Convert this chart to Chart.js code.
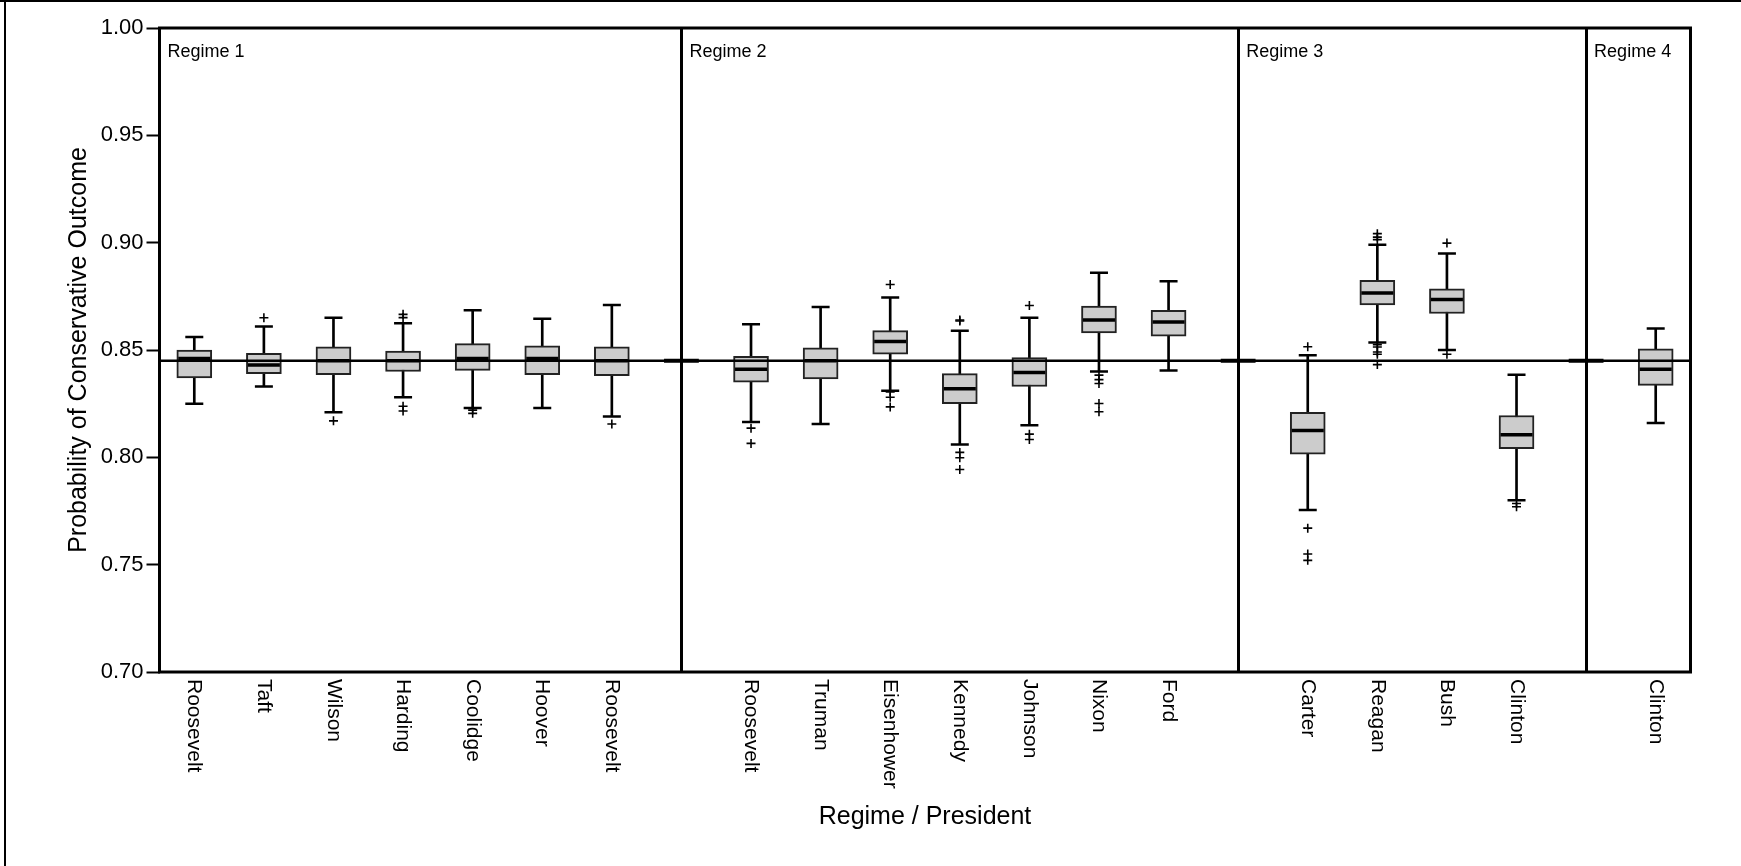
<!DOCTYPE html>
<html lang="en">
<head>
<meta charset="utf-8">
<title>Probability of Conservative Outcome by Regime / President</title>

<script src="https://cdn.jsdelivr.net/npm/chart.js"></script>

<style>
  body{margin:0;background:#fff}
  canvas{display:block}
</style>
</head>
<body>

<canvas id="chart" width="1741" height="866"></canvas>

<script>
// one slot per president; null slots are where the regime dividers sit
const presidents = [
  'Roosevelt','Taft','Wilson','Harding','Coolidge','Hoover','Roosevelt', null,
  'Roosevelt','Truman','Eisenhower','Kennedy','Johnson','Nixon','Ford', null,
  'Carter','Reagan','Bush','Clinton', null,
  'Clinton'
];

const whiskerLow  = [0.825,0.833,0.821,0.828,0.823,0.823,0.819,null, 0.8165,0.8155,0.831,0.806,0.815,0.840,0.8405,null, 0.7755,0.8535,0.850,0.780,null, 0.816];
const q1          = [0.837,0.839,0.8385,0.840,0.8405,0.8385,0.838,null, 0.835,0.8365,0.848,0.825,0.833,0.858,0.8565,null, 0.8015,0.871,0.867,0.804,null, 0.8335];
const median      = [0.846,0.843,0.845,0.845,0.846,0.846,0.845,null, 0.841,0.845,0.854,0.832,0.8395,0.864,0.863,null, 0.8125,0.8765,0.8735,0.8105,null, 0.841];
const q3          = [0.850,0.8485,0.8515,0.8495,0.853,0.852,0.8515,null, 0.847,0.851,0.859,0.839,0.8465,0.8705,0.8685,null, 0.821,0.8825,0.8785,0.8195,null, 0.8505];
const whiskerHigh = [0.856,0.861,0.865,0.8625,0.8685,0.8645,0.871,null, 0.862,0.870,0.8745,0.859,0.865,0.886,0.882,null, 0.8475,0.899,0.895,0.8385,null, 0.860];

const outliers = [
  [], [0.865], [0.817], [0.8666,0.8651,0.8238,0.8216], [0.822,0.8205], [], [0.8155], [],
  [0.8136,0.8065], [], [0.8805,0.8305,0.828,0.8235], [0.8635,0.8640,0.8023,0.7998,0.7943],
  [0.8707,0.8108,0.8083], [0.8383,0.8362,0.8344,0.8251,0.8212], [], [],
  [0.8515,0.767,0.755,0.752], [0.9042,0.9026,0.9014,0.8525,0.8514,0.8491,0.848,0.8432],
  [0.8998,0.848], [0.7785,0.777], [],
  []
];

const regimes      = ['Regime 1','Regime 2','Regime 3','Regime 4'];
const regimeBreaks = [7, 15, 20];
const baseline     = 0.845;
const yTicks       = [0.70,0.75,0.80,0.85,0.90,0.95,1.00];

const FONT = "'Liberation Sans', Arial, sans-serif";
const slots = presidents.map((p, i) => i).filter(i => presidents[i] !== null);

const decor = {
  id: 'decor',
  beforeDraw(chart){
    const {ctx, width, height} = chart;
    ctx.save();
    ctx.fillStyle = '#fff';
    ctx.fillRect(0, 0, width, height);
    ctx.fillStyle = '#000';
    ctx.fillRect(0, 0, width, 2);
    ctx.fillRect(4, 0, 2, height);
    ctx.restore();
  },
  afterDraw(chart){
    const {ctx, chartArea: a, scales: {x}} = chart;
    ctx.save();
    ctx.strokeStyle = '#000';
    ctx.lineWidth = 3;
    ctx.strokeRect(a.left, a.top, a.right - a.left, a.bottom - a.top);

    ctx.fillStyle = '#000';
    ctx.font = '21px ' + FONT;
    ctx.textAlign = 'left';
    ctx.textBaseline = 'middle';
    presidents.forEach((name, i) => {
      if (!name) return;
      ctx.save();
      ctx.translate(x.getPixelForValue(i), a.bottom + 7);
      ctx.rotate(Math.PI / 2);
      ctx.fillText(name, 0, 0);
      ctx.restore();
    });

    ctx.font = '18px ' + FONT;
    ctx.textBaseline = 'alphabetic';
    [x.min, ...regimeBreaks].forEach((start, k) => {
      ctx.fillText(regimes[k], x.getPixelForValue(start) + 8, a.top + 29);
    });
    ctx.restore();
  }
};

const stubs = regimeBreaks.flatMap(b => [{x:b-0.25, y:baseline}, {x:b+0.25, y:baseline}, {x:b+0.3, y:null}]);

new Chart(document.getElementById('chart'), {
  type: 'bar',
  data: {
    datasets: [
      { type:'bar', data: slots.map(i => ({x:i, y:[whiskerLow[i], whiskerHigh[i]]})),
        backgroundColor:'#000', barThickness:2, grouped:false, order:6 },
      { type:'bar', data: slots.map(i => ({x:i, y:[q1[i], q3[i]]})),
        backgroundColor:'#cccccc', borderColor:'#222', borderWidth:2, borderSkipped:false,
        barThickness:35, grouped:false, order:5 },
      { type:'line', data: slots.flatMap(i => [{x:i, y:whiskerLow[i]}, {x:i, y:whiskerHigh[i]}]),
        showLine:false, pointStyle:'line', pointRadius:9, pointHoverRadius:9,
        pointBorderColor:'#000', pointBorderWidth:2.5, order:4 },
      { type:'line', data: [{x:-0.5, y:baseline}, {x:21.5, y:baseline}],
        borderColor:'#000', borderWidth:2.5, pointRadius:0, order:3 },
      { type:'line', data: stubs,
        borderColor:'#000', borderWidth:4, pointRadius:0, order:3 },
      { type:'line', data: slots.map(i => ({x:i, y:median[i]})),
        showLine:false, pointStyle:'line', pointRadius:16, pointHoverRadius:16,
        pointBorderColor:'#000', pointBorderWidth:3.5, order:2 },
      { type:'line', data: slots.flatMap(i => outliers[i].map(v => ({x:i, y:v}))),
        showLine:false, pointStyle:'cross', pointRadius:4.5, pointHoverRadius:4.5,
        pointBorderColor:'#000', pointBorderWidth:1.6, order:1 }
    ]
  },
  options: {
    responsive:false,
    animation:false,
    events:[],
    layout:{ padding:{ left:60.5, top:28, right:50.5, bottom:29.6 } },
    plugins:{ legend:{ display:false }, tooltip:{ enabled:false } },
    scales:{
      x:{
        type:'linear', min:-0.5, max:21.5, offset:false,
        afterBuildTicks(s){ s.ticks = regimeBreaks.map(v => ({value:v})); },
        afterFit(s){ s.height = 164.4; },
        ticks:{ display:false },
        grid:{ color:'#000', lineWidth:3, drawTicks:false, offset:false },
        border:{ display:false },
        title:{ display:true, text:'Regime / President', color:'#000', font:{ family:FONT, size:25 } }
      },
      y:{
        min:0.70, max:1.00,
        afterBuildTicks(s){ s.ticks = yTicks.map(v => ({value:v})); },
        afterFit(s){ s.width = 99; },
        ticks:{ color:'#000', padding:3, font:{ family:FONT, size:22 }, callback: v => v.toFixed(2) },
        grid:{ drawOnChartArea:false, tickLength:13, tickColor:'#000', tickWidth:2 },
        border:{ display:false },
        title:{ display:true, text:'Probability of Conservative Outcome', color:'#000', font:{ family:FONT, size:25 } }
      }
    }
  },
  plugins:[decor]
});
</script>

</body>
</html>
